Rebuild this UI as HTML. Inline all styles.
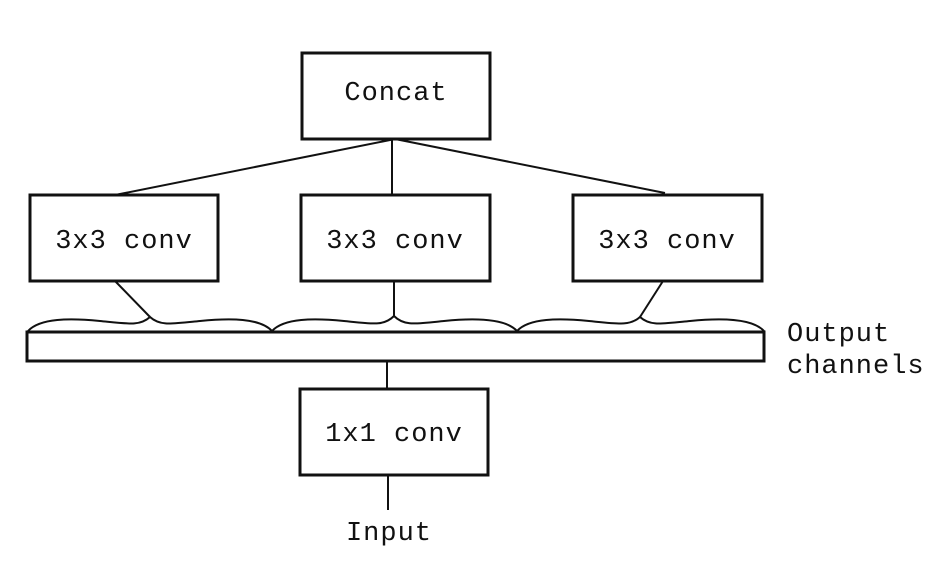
<!DOCTYPE html>
<html><head><style>
html,body{margin:0;padding:0;background:#fff;}
svg text{font-family:"Liberation Mono","DejaVu Sans Mono",monospace;font-size:27px;fill:#111;letter-spacing:1px;}
</style></head><body>
<svg width="933" height="571" viewBox="0 0 933 571" xmlns="http://www.w3.org/2000/svg">
<g fill="none" stroke="#111" stroke-width="3">
<rect x="302" y="53" width="188" height="86"/>
<rect x="30" y="195" width="188" height="86"/>
<rect x="301" y="195" width="189" height="86"/>
<rect x="573" y="195" width="189" height="86"/>
<rect x="27" y="332" width="737" height="29"/>
<rect x="300" y="389" width="188" height="86"/>
</g>
<g fill="none" stroke="#111" stroke-width="2">
<line x1="395" y1="139" x2="115" y2="195"/>
<line x1="392" y1="139" x2="392" y2="195"/>
<line x1="395" y1="139" x2="665" y2="193"/>
<line x1="115" y1="281" x2="150" y2="317"/>
<line x1="394" y1="281" x2="394" y2="316"/>
<line x1="663" y1="281" x2="640" y2="317"/>
<line x1="387" y1="361" x2="387" y2="389"/>
<line x1="388" y1="475" x2="388" y2="510"/>
<path d="M28,331 C40,318 70,318 100,321 C130,324 140,326 150,317 C160,326 170,324 200,321 C230,318 260,318 272,331 C284,318 314,318 344,321 C374,324 384,326 394,316 C404,326 414,324 444,321 C474,318 505,318 517,331 C529,318 559,318 589,321 C619,324 630,326 640,317 C650,326 660,324 690,321 C720,318 752,318 764,331"/>
</g>
<text x="396" y="100" text-anchor="middle">Concat</text>
<text x="124" y="248" text-anchor="middle">3x3 conv</text>
<text x="395" y="248" text-anchor="middle">3x3 conv</text>
<text x="667" y="248" text-anchor="middle">3x3 conv</text>
<text x="394" y="441" text-anchor="middle">1x1 conv</text>
<text x="389" y="540" text-anchor="middle">Input</text>
<text x="787" y="341">Output</text>
<text x="787" y="373">channels</text>
</svg>
</body></html>
